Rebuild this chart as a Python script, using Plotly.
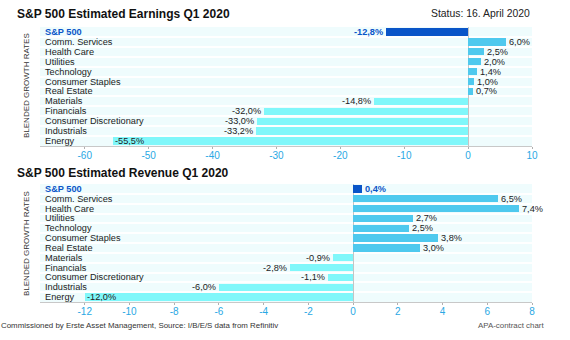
import plotly.graph_objects as go

categories = ["S&P 500", "Comm. Services", "Health Care", "Utilities", "Technology",
              "Consumer Staples", "Real Estate", "Materials", "Financials",
              "Consumer Discretionary", "Industrials", "Energy"]
earnings = [-12.8, 6.0, 2.5, 2.0, 1.4, 1.0, 0.7, -14.8, -32.0, -33.0, -33.2, -55.5]
revenue = [0.4, 6.5, 7.4, 2.7, 2.5, 3.8, 3.0, -0.9, -2.8, -1.1, -6.0, -12.0]
earn_ticks = [-60, -50, -40, -30, -20, -10, 0, 10]
rev_ticks = [-12, -10, -8, -6, -4, -2, 0, 2, 4, 6, 8]

DARK = "#0a55c8"
POS = "#4fc9ee"
NEG = "#80f7fa"
BG = "#effcfd"
TICKC = "#2aa8e4"
TXT = "#222222"
FONT = "Liberation Sans, Arial, sans-serif"
LBL = 9.2

def fmt(v):
    return f"{v:.1f}".replace(".", ",") + "%"

def colors(vals):
    out = []
    for i, v in enumerate(vals):
        if i == 0:
            out.append(DARK)
        else:
            out.append(POS if v >= 0 else NEG)
    return out

fig = go.Figure()
ypos = list(range(len(categories)))

fig.add_trace(go.Bar(x=earnings, y=ypos, orientation="h", marker=dict(color=colors(earnings), line_width=0),
                     width=0.74, xaxis="x", yaxis="y", hoverinfo="skip"))
fig.add_trace(go.Bar(x=revenue, y=ypos, orientation="h", marker=dict(color=colors(revenue), line_width=0),
                     width=0.74, xaxis="x2", yaxis="y2", hoverinfo="skip"))

xdom = [40 / 570, 532 / 570]
ydom1 = [1 - 146 / 340, 1 - 27 / 340]
ydom2 = [1 - 302 / 340, 1 - 184 / 340]

def xax(rng, ticks, anchor):
    return dict(domain=xdom, range=rng, tickvals=ticks, ticktext=[str(t) for t in ticks], anchor=anchor,
                showgrid=False, zeroline=True, zerolinecolor="#c4c4c4", zerolinewidth=1,
                showline=True, linecolor="#c8c8c8", linewidth=1, ticks="outside", ticklen=2,
                tickcolor="#b0b0b0", tickfont=dict(color=TICKC, size=10, family=FONT),
                ticklabelstandoff=-2, automargin=False, fixedrange=True)

def yax(dom, anchor):
    return dict(domain=dom, range=[11.5, -0.5], showticklabels=False, showgrid=False, zeroline=False,
                anchor=anchor, showline=False, automargin=False,
                minor=dict(tick0=0.5, dtick=1, showgrid=True, gridcolor="white", gridwidth=1.5),
                fixedrange=True)

fig.update_layout(
    width=570, height=340, margin=dict(l=0, r=0, t=0, b=0, pad=0, autoexpand=False),
    paper_bgcolor="white", plot_bgcolor=BG, showlegend=False, bargap=0,
    font=dict(family=FONT, color=TXT),
    xaxis=xax([-67, 10], earn_ticks, "y"), yaxis=yax(ydom1, "x"),
    xaxis2=xax([-14, 8], rev_ticks, "y2"), yaxis2=yax(ydom2, "x2"),
)

ann = []
for yr, xr in (("y", "x"), ("y2", "x2")):
    for i, c in enumerate(categories):
        ann.append(dict(x=0.008, xref=f"{xr} domain", y=i, yref=yr, text=f"<b>{c}</b>" if i == 0 else c,
                        showarrow=False, xanchor="left", yanchor="middle", borderpad=0,
                        font=dict(size=LBL, color=DARK if i == 0 else TXT, family=FONT)))

def value_labels(vals, xr, yr):
    for i, v in enumerate(vals):
        txt = fmt(v)
        col = DARK if i == 0 else TXT
        if i == 0:
            txt = f"<b>{txt}</b>"
        if v >= 0:
            anchor, shift = "left", 2
        elif i == len(vals) - 1:
            anchor, shift = "left", 1
        else:
            anchor, shift = "right", -2
        ann.append(dict(x=v, xref=xr, y=i, yref=yr, text=txt, showarrow=False, xanchor=anchor,
                        xshift=shift, yanchor="middle", borderpad=0,
                        font=dict(size=LBL, color=col, family=FONT)))

value_labels(earnings, "x", "y")
value_labels(revenue, "x2", "y2")

ann.append(dict(x=15 / 570, y=1 - 14 / 340, xref="paper", yref="paper", text="<b>S&P 500 Estimated Earnings Q1 2020</b>",
                showarrow=False, xanchor="left", yanchor="middle", font=dict(size=12, color="#111", family=FONT)))
ann.append(dict(x=532 / 570, y=1 - 14 / 340, xref="paper", yref="paper", text="Status: 16. April 2020",
                showarrow=False, xanchor="right", yanchor="middle", font=dict(size=10.4, color=TXT, family=FONT)))
ann.append(dict(x=15 / 570, y=1 - 173 / 340, xref="paper", yref="paper", text="<b>S&P 500 Estimated Revenue Q1 2020</b>",
                showarrow=False, xanchor="left", yanchor="middle", font=dict(size=12, color="#111", family=FONT)))
for yc in (86, 244):
    ann.append(dict(x=26 / 570, y=1 - yc / 340, xref="paper", yref="paper", text="BLENDED GROWTH RATES",
                    textangle=-90, showarrow=False, xanchor="center", yanchor="middle",
                    font=dict(size=8, color="#333", family=FONT)))
ann.append(dict(x=0, y=1 - 325 / 340, xref="paper", yref="paper",
                text="Commissioned by Erste Asset Management, Source: I/B/E/S data from Refinitiv",
                showarrow=False, xanchor="left", yanchor="middle", borderpad=0,
                font=dict(size=7.9, color="#333", family=FONT)))
ann.append(dict(x=545 / 570, y=1 - 325 / 340, xref="paper", yref="paper", text="APA-contract chart",
                showarrow=False, xanchor="right", yanchor="middle", borderpad=0,
                font=dict(size=7.9, color="#555", family=FONT)))

fig.update_layout(annotations=ann)
fig.write_html("out.html")
